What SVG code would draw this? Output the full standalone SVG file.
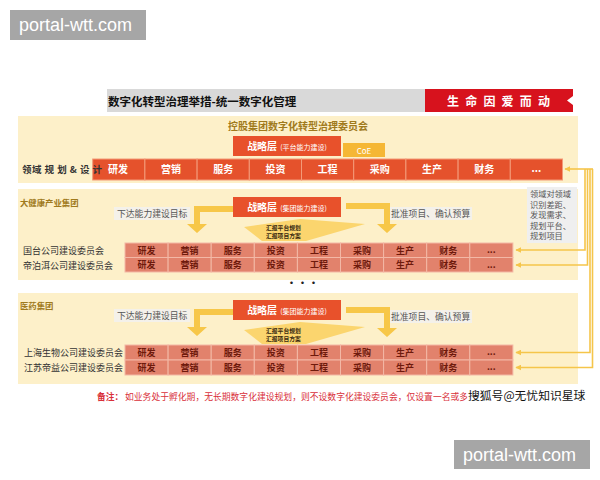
<svg xmlns="http://www.w3.org/2000/svg" width="600" height="480" viewBox="0 0 600 480">
<defs>
<style>
text{font-family:"Noto Sans CJK SC","Liberation Sans",sans-serif;}
.panel{fill:#fdf0c9;}
.olive{fill:#a07a1c;font-weight:bold;}
.strat{fill:#e8512b;}
.stratT{fill:#fff;font-weight:bold;font-size:10px;}
.stratS{fill:#fff;font-size:7px;}
.c1{fill:#e5522c;stroke:#f39a78;stroke-width:1;}
.c1t{fill:#fff;font-weight:bold;font-size:10px;text-anchor:middle;}
.c2{fill:#e2826c;stroke:#f3b8a6;stroke-width:1;}
.c2t{fill:#6e1a0c;font-weight:bold;font-size:9px;text-anchor:middle;}
.lbl{fill:#333;font-size:9px;}
.gray{fill:#555;font-size:8.8px;}
.note{fill:#555;font-size:8.2px;}
.gbg{fill:#f4f1ea;}
.yarr{fill:#f7c748;}
.conn{fill:none;stroke:#f5c54a;stroke-width:1.6;}
.wm{fill:#a6a6a6;}
.wmt{fill:#fff;font-family:"Liberation Sans",Arial,sans-serif;font-size:18px;}
.hb{fill:#3a2a10;font-size:5.8px;font-weight:bold;}
</style>
<marker id="ah" viewBox="0 0 10 10" refX="9" refY="5" markerWidth="6" markerHeight="6" orient="auto" markerUnits="userSpaceOnUse">
<path d="M0,0 L10,5 L0,10 z" fill="#f5c54a"/>
</marker>
</defs>
<rect width="600" height="480" fill="#fff"/>

<g id="watermark-top">
<rect class="wm" x="10" y="10" width="136" height="30"/>
<text class="wmt" x="19" y="31">portal-wtt.com</text>
</g>

<g id="title">
<rect x="107" y="89" width="318" height="23" fill="#d9d9d9"/>
<rect x="425" y="89" width="148" height="23" fill="#d7121d"/>
<path d="M573,96 L567,100.5 L573,105 z" fill="#fff"/>
<text x="108" y="106" font-size="11.5" font-weight="bold" fill="#111">数字化转型治理举措-统一数字化管理</text>
<text x="447" y="106" font-size="12" font-weight="bold" fill="#fff" textLength="103" lengthAdjust="spacing">生 命 因 爱 而 动</text>
</g>

<g id="panel-holding">
<rect class="panel" x="18" y="116" width="560" height="67"/>
<text class="olive" x="298" y="130" font-size="10" text-anchor="middle">控股集团数字化转型治理委员会</text>
<rect class="strat" x="233" y="136" width="108" height="20"/>
<text x="287" y="150" text-anchor="middle"><tspan class="stratT">战略层</tspan><tspan class="stratS" dx="3">(平台能力建设)</tspan></text>
<rect x="343" y="143" width="42" height="14" fill="#f5b735"/>
<text x="364" y="153.5" font-size="8" fill="#fff" text-anchor="middle">CoE</text>
<rect class="c1" x="92.7" y="159" width="52.2" height="21"/>
<rect class="c1" x="144.9" y="159" width="52.2" height="21"/>
<rect class="c1" x="197.1" y="159" width="52.2" height="21"/>
<rect class="c1" x="249.3" y="159" width="52.2" height="21"/>
<rect class="c1" x="301.5" y="159" width="52.2" height="21"/>
<rect class="c1" x="353.7" y="159" width="52.2" height="21"/>
<rect class="c1" x="405.9" y="159" width="52.2" height="21"/>
<rect class="c1" x="458.1" y="159" width="52.2" height="21"/>
<rect class="c1" x="510.3" y="159" width="52.2" height="21"/>
<text class="c1t" x="118" y="173">研发</text>
<text class="c1t" x="171" y="173">营销</text>
<text class="c1t" x="223.2" y="173">服务</text>
<text class="c1t" x="275.4" y="173">投资</text>
<text class="c1t" x="327.6" y="173">工程</text>
<text class="c1t" x="379.8" y="173">采购</text>
<text class="c1t" x="432" y="173">生产</text>
<text class="c1t" x="484.2" y="173">财务</text>
<text class="c1t" x="536.4" y="172">...</text>
<text x="22" y="173" font-size="9.5" font-weight="bold" fill="#333" textLength="80" lengthAdjust="spacing">领域 规 划 &amp; 设 计</text>
</g>

<g id="panel-health">
<rect class="panel" x="18" y="189" width="560" height="91"/>
<text class="olive" x="20" y="206" font-size="8.4">大健康产业集团</text>
<rect class="strat" x="233" y="197" width="108" height="20"/>
<text x="287" y="211" text-anchor="middle"><tspan class="stratT">战略层</tspan><tspan class="stratS" dx="3">(集团能力建设)</tspan></text>
<rect class="gbg" x="114" y="207" width="76" height="13"/>
<text class="gray" x="117" y="217">下达能力建设目标</text>
<rect class="gbg" x="388" y="207" width="84" height="13"/>
<text class="gray" x="391" y="217">批准项目、确认预算</text>
<path class="yarr" d="M233,206 L194,206 L194,224 L187,224 L197,233 L207,224 L200,224 L200,212 L233,212 z"/>
<path class="yarr" d="M346,203 L390,203 L390,224 L397,224 L387,233 L377,224 L384,224 L384,209 L346,209 z"/>
<path d="M244,227 L300,219 L365,224 L306,241 L262,241 z" fill="#fbd56e"/>
<text class="hb" x="266" y="229.5">汇报平台规划</text>
<text class="hb" x="266" y="238">汇报项目方案</text>
<text class="lbl" x="23" y="254">国台公司建设委员会</text>
<text class="lbl" x="23" y="269">帝泊洱公司建设委员会</text>
<g id="row-guotai">
<rect class="c2" x="125" y="243" width="43.1" height="14.5"/>
<rect class="c2" x="168.1" y="243" width="43.1" height="14.5"/>
<rect class="c2" x="211.2" y="243" width="43.1" height="14.5"/>
<rect class="c2" x="254.3" y="243" width="43.1" height="14.5"/>
<rect class="c2" x="297.4" y="243" width="43.1" height="14.5"/>
<rect class="c2" x="340.5" y="243" width="43.1" height="14.5"/>
<rect class="c2" x="383.6" y="243" width="43.1" height="14.5"/>
<rect class="c2" x="426.7" y="243" width="43.1" height="14.5"/>
<rect class="c2" x="469.8" y="243" width="43.1" height="14.5"/>
<text class="c2t" x="146.5" y="253.5">研发</text>
<text class="c2t" x="189.6" y="253.5">营销</text>
<text class="c2t" x="232.7" y="253.5">服务</text>
<text class="c2t" x="275.8" y="253.5">投资</text>
<text class="c2t" x="318.9" y="253.5">工程</text>
<text class="c2t" x="362" y="253.5">采购</text>
<text class="c2t" x="405.1" y="253.5">生产</text>
<text class="c2t" x="448.2" y="253.5">财务</text>
<text class="c2t" x="491.3" y="253">...</text>
</g>
<g id="row-dibo">
<rect class="c2" x="125" y="257.5" width="43.1" height="14.5"/>
<rect class="c2" x="168.1" y="257.5" width="43.1" height="14.5"/>
<rect class="c2" x="211.2" y="257.5" width="43.1" height="14.5"/>
<rect class="c2" x="254.3" y="257.5" width="43.1" height="14.5"/>
<rect class="c2" x="297.4" y="257.5" width="43.1" height="14.5"/>
<rect class="c2" x="340.5" y="257.5" width="43.1" height="14.5"/>
<rect class="c2" x="383.6" y="257.5" width="43.1" height="14.5"/>
<rect class="c2" x="426.7" y="257.5" width="43.1" height="14.5"/>
<rect class="c2" x="469.8" y="257.5" width="43.1" height="14.5"/>
<text class="c2t" x="146.5" y="268">研发</text>
<text class="c2t" x="189.6" y="268">营销</text>
<text class="c2t" x="232.7" y="268">服务</text>
<text class="c2t" x="275.8" y="268">投资</text>
<text class="c2t" x="318.9" y="268">工程</text>
<text class="c2t" x="362" y="268">采购</text>
<text class="c2t" x="405.1" y="268">生产</text>
<text class="c2t" x="448.2" y="268">财务</text>
<text class="c2t" x="491.3" y="267.5">...</text>
</g>
</g>

<text x="303" y="287" font-size="10" font-weight="bold" fill="#222" text-anchor="middle" letter-spacing="1">•••</text>

<g id="panel-pharma">
<rect class="panel" x="18" y="293" width="560" height="91"/>
<text class="olive" x="20" y="309" font-size="8.4">医药集团</text>
<rect class="strat" x="233" y="300" width="108" height="20"/>
<text x="287" y="314" text-anchor="middle"><tspan class="stratT">战略层</tspan><tspan class="stratS" dx="3">(集团能力建设)</tspan></text>
<rect class="gbg" x="114" y="309" width="76" height="13"/>
<text class="gray" x="117" y="319">下达能力建设目标</text>
<rect class="gbg" x="388" y="310" width="84" height="13"/>
<text class="gray" x="391" y="320">批准项目、确认预算</text>
<path class="yarr" d="M233,309 L194,309 L194,327 L187,327 L197,336 L207,327 L200,327 L200,315 L233,315 z"/>
<path class="yarr" d="M346,307 L390,307 L390,328 L397,328 L387,337 L377,328 L384,328 L384,313 L346,313 z"/>
<path d="M244,330 L300,322 L365,327 L306,344 L262,344 z" fill="#fbd56e"/>
<text class="hb" x="266" y="332.5">汇报平台规划</text>
<text class="hb" x="266" y="341">汇报项目方案</text>
<text class="lbl" x="24" y="356">上海生物公司建设委员会</text>
<text class="lbl" x="24" y="371">江苏帝益公司建设委员会</text>
<g id="row-shanghai">
<rect class="c2" x="125" y="345" width="43.1" height="15"/>
<rect class="c2" x="168.1" y="345" width="43.1" height="15"/>
<rect class="c2" x="211.2" y="345" width="43.1" height="15"/>
<rect class="c2" x="254.3" y="345" width="43.1" height="15"/>
<rect class="c2" x="297.4" y="345" width="43.1" height="15"/>
<rect class="c2" x="340.5" y="345" width="43.1" height="15"/>
<rect class="c2" x="383.6" y="345" width="43.1" height="15"/>
<rect class="c2" x="426.7" y="345" width="43.1" height="15"/>
<rect class="c2" x="469.8" y="345" width="43.1" height="15"/>
<text class="c2t" x="146.5" y="355.5">研发</text>
<text class="c2t" x="189.6" y="355.5">营销</text>
<text class="c2t" x="232.7" y="355.5">服务</text>
<text class="c2t" x="275.8" y="355.5">投资</text>
<text class="c2t" x="318.9" y="355.5">工程</text>
<text class="c2t" x="362" y="355.5">采购</text>
<text class="c2t" x="405.1" y="355.5">生产</text>
<text class="c2t" x="448.2" y="355.5">财务</text>
<text class="c2t" x="491.3" y="355">...</text>
</g>
<g id="row-jiangsu">
<rect class="c2" x="125" y="360" width="43.1" height="15"/>
<rect class="c2" x="168.1" y="360" width="43.1" height="15"/>
<rect class="c2" x="211.2" y="360" width="43.1" height="15"/>
<rect class="c2" x="254.3" y="360" width="43.1" height="15"/>
<rect class="c2" x="297.4" y="360" width="43.1" height="15"/>
<rect class="c2" x="340.5" y="360" width="43.1" height="15"/>
<rect class="c2" x="383.6" y="360" width="43.1" height="15"/>
<rect class="c2" x="426.7" y="360" width="43.1" height="15"/>
<rect class="c2" x="469.8" y="360" width="43.1" height="15"/>
<text class="c2t" x="146.5" y="370.5">研发</text>
<text class="c2t" x="189.6" y="370.5">营销</text>
<text class="c2t" x="232.7" y="370.5">服务</text>
<text class="c2t" x="275.8" y="370.5">投资</text>
<text class="c2t" x="318.9" y="370.5">工程</text>
<text class="c2t" x="362" y="370.5">采购</text>
<text class="c2t" x="405.1" y="370.5">生产</text>
<text class="c2t" x="448.2" y="370.5">财务</text>
<text class="c2t" x="491.3" y="370">...</text>
</g>
</g>

<g id="domain-note">
<rect x="527" y="187" width="50" height="56" fill="#efefef"/>
<text class="note" x="530" y="197">领域对领域</text>
<text class="note" x="530" y="207.5">识别差距、</text>
<text class="note" x="530" y="218">发现需求、</text>
<text class="note" x="530" y="228.5">规划平台、</text>
<text class="note" x="530" y="239">规划项目</text>
</g>

<g id="connectors">
<path class="conn" d="M593,169 L565,169" marker-end="url(#ah)"/>
<path class="conn" d="M585,169 L585,250 L516,250" marker-end="url(#ah)"/>
<path class="conn" d="M587.5,169 L587.5,265 L516,265" marker-end="url(#ah)"/>
<path class="conn" d="M590,169 L590,352.5 L516,352.5" marker-end="url(#ah)"/>
<path class="conn" d="M592.5,169 L592.5,367.5 L516,367.5" marker-end="url(#ah)"/>
</g>

<g id="footnote">
<text x="97" y="400" font-size="8.8" fill="#d9303a"><tspan font-weight="bold">备注：</tspan><tspan x="125">如业务处于孵化期，无长期数字化建设规划，则不设数字化建设委员会，仅设置一名或多</tspan></text>
<text x="468" y="400" font-size="11.8" fill="#111" stroke="#fff" stroke-width="2.5" paint-order="stroke">搜狐号@无忧知识星球</text>
</g>

<g id="watermark-bottom">
<rect class="wm" x="454" y="440" width="136" height="29"/>
<text class="wmt" x="463" y="461">portal-wtt.com</text>
</g>
</svg>
